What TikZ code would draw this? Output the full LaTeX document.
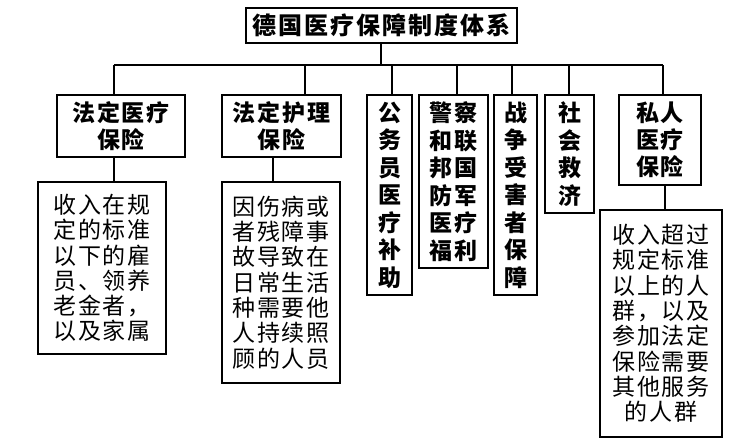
\documentclass[tikz,border=0pt]{standalone}
\usepackage{fontspec}
\newfontfamily\cjk[LetterSpace=8]{Noto Sans CJK SC}
\begin{document}
\begin{tikzpicture}[x=1pt,y=-1pt,
  box/.style={draw, line width=1.3pt, inner sep=0pt, align=center},
  hbox/.style={box, font=\cjk\bfseries\fontsize{23}{27}\selectfont},
  vbox/.style={box, font=\cjk\bfseries\fontsize{23}{27.5}\selectfont},
  dbox/.style={box, font=\cjk\fontsize{23}{25.3}\selectfont},
  conn/.style={line width=1.3pt}]
\useasboundingbox[fill=white] (0,0) rectangle (749,445);
% title
\node[box, font=\cjk\bfseries\fontsize{24}{28}\selectfont, minimum width=271pt, minimum height=35pt] (T) at (381.5,25.5) {德国医疗保障制度体系};
% level 1
\node[hbox, minimum width=128pt, minimum height=62pt] (A) at (121,126) {法定医疗\\保险};
\node[hbox, minimum width=119pt, minimum height=62pt] (B) at (281.5,126) {法定护理\\保险};
\node[vbox, minimum width=45pt, minimum height=200pt] (C) at (389.5,195) {公\\务\\员\\医\\疗\\补\\助};
\node[vbox, minimum width=69pt, minimum height=173pt] (D) at (453.5,181.5) {警察\\和联\\邦国\\防军\\医疗\\福利};
\node[vbox, minimum width=43pt, minimum height=200pt] (E) at (515.5,195) {战\\争\\受\\害\\者\\保\\障};
\node[vbox, minimum width=49pt, minimum height=118pt] (F) at (569.5,154) {社\\会\\救\\济};
\node[hbox, minimum width=82pt, minimum height=90pt] (G) at (660,140) {私人\\医疗\\保险};
% descriptions
\node[dbox, minimum width=128pt, minimum height=172pt] (DA) at (102,268) {收入在规\\定的标准\\以下的雇\\员、领养\\老金者，\\以及家属};
\node[dbox, minimum width=118pt, minimum height=201pt] (DB) at (281,282.5) {因伤病或\\者残障事\\故导致在\\日常生活\\种需要他\\人持续照\\顾的人员};
\node[dbox, minimum width=122pt, minimum height=227pt] (DG) at (661,323.5) {收入超过\\规定标准\\以上的人\\群，以及\\参加法定\\保险需要\\其他服务\\的人群};
% connectors
\coordinate (busL) at (114,65);
\coordinate (busR) at (663,65);
\draw[conn] (T.south -| 381,0) -- (busL -| 381,0);
\draw[conn] (busL) -- (busR);
\foreach \n/\x in {A/114,B/305,C/392,D/457,E/512,F/569,G/663} {
  \coordinate (b\n) at (\x,65);
  \draw[conn] (b\n) -- (b\n |- \n.north);
}
\coordinate (lA) at (114,0);
\coordinate (lB) at (273,0);
\coordinate (lG) at (665,0);
\draw[conn] (lA |- A.south) -- (lA |- DA.north);
\draw[conn] (lB |- B.south) -- (lB |- DB.north);
\draw[conn] (lG |- G.south) -- (lG |- DG.north);
\end{tikzpicture}
\end{document}
